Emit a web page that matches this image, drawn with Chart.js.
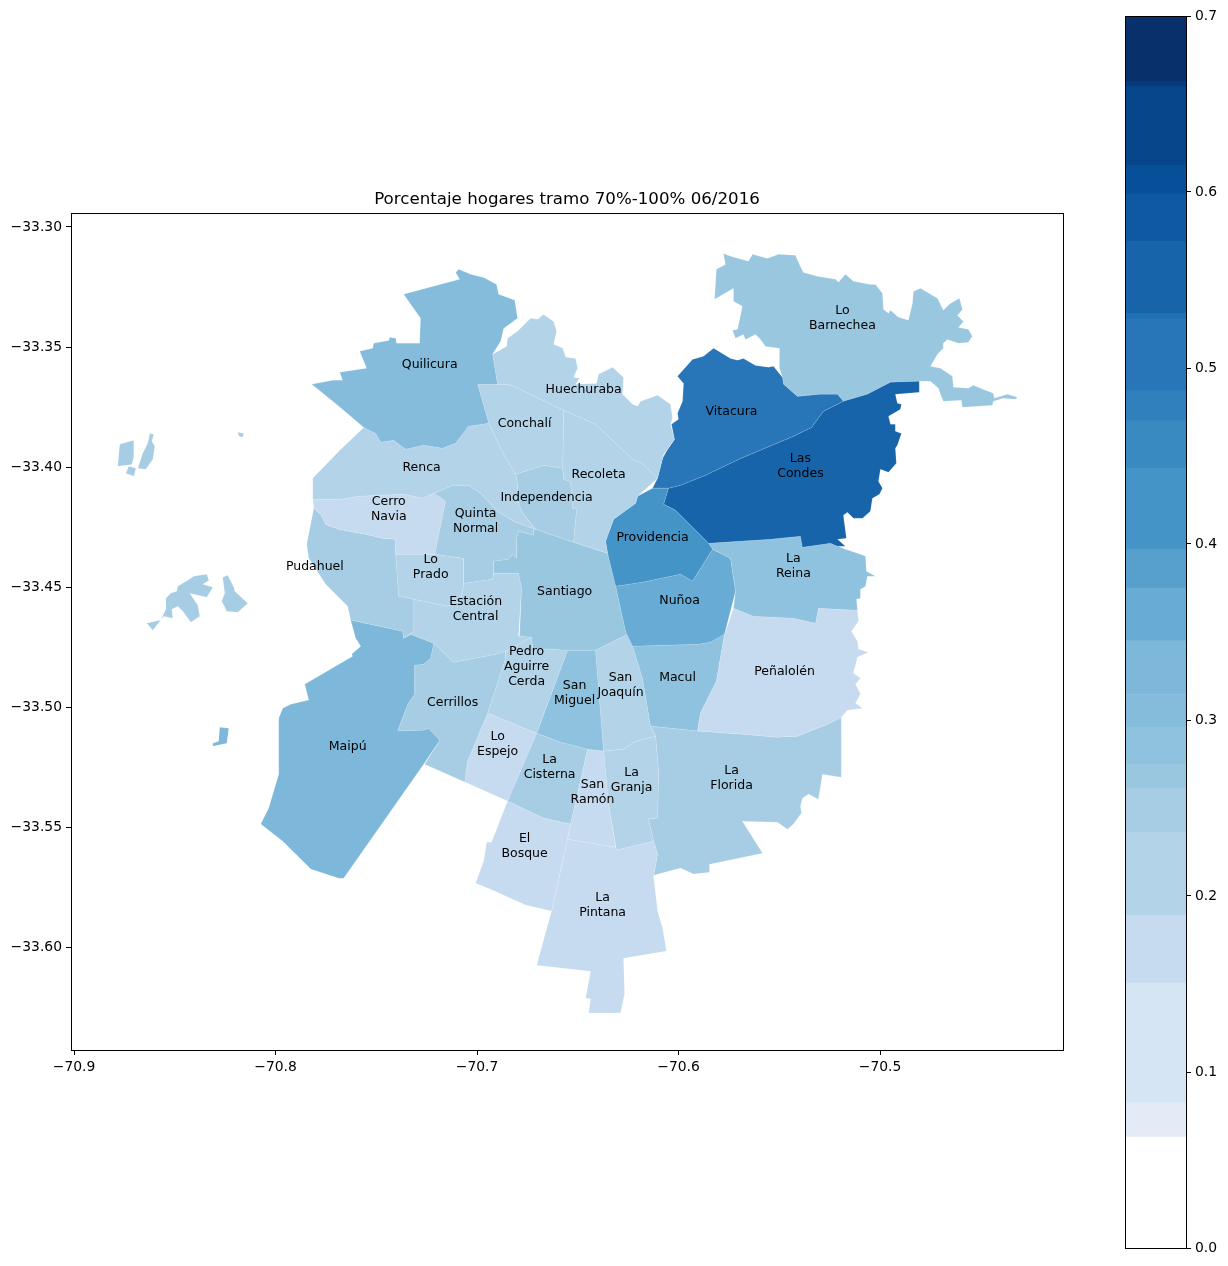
<!DOCTYPE html>
<html>
<head>
<meta charset="utf-8">
<title>Porcentaje hogares tramo 70%-100% 06/2016</title>
<script src="https://cdn.jsdelivr.net/npm/chart.js@4/dist/chart.umd.min.js"></script>
<style>
  html, body { margin: 0; padding: 0; background: #fff; }
  canvas { position: absolute; top: 0; }
  #mapa { left: 0; }
  #barra { left: 1110px; }
</style>
</head>
<body>
<canvas id="mapa" width="1110" height="1266"></canvas>
<canvas id="barra" width="118" height="1266"></canvas>
<script>
// Contornos de cada comuna en [longitud, latitud]
const quilicura = [[-70.7091,-33.3176],[-70.7032,-33.3197],[-70.6967,-33.3210],[-70.6903,-33.3239],[-70.6893,-33.3280],[-70.6813,-33.3305],[-70.6799,-33.3380],[-70.6868,-33.3422],[-70.6883,-33.3476],[-70.6923,-33.3530],[-70.6898,-33.3655],[-70.6997,-33.3655],[-70.6942,-33.3817],[-70.7042,-33.3829],[-70.7106,-33.3900],[-70.7171,-33.3921],[-70.7265,-33.3908],[-70.7354,-33.3925],[-70.7414,-33.3888],[-70.7478,-33.3896],[-70.7503,-33.3859],[-70.7562,-33.3834],[-70.7637,-33.3780],[-70.7716,-33.3725],[-70.7820,-33.3655],[-70.7716,-33.3638],[-70.7667,-33.3638],[-70.7681,-33.3605],[-70.7548,-33.3588],[-70.7582,-33.3517],[-70.7518,-33.3505],[-70.7513,-33.3484],[-70.7438,-33.3472],[-70.7433,-33.3459],[-70.7404,-33.3463],[-70.7399,-33.3484],[-70.7285,-33.3484],[-70.7280,-33.3380],[-70.7364,-33.3280],[-70.7086,-33.3218],[-70.7106,-33.3189]];
const huechuraba = [[-70.6923,-33.3530],[-70.6853,-33.3497],[-70.6848,-33.3463],[-70.6799,-33.3434],[-70.6734,-33.3380],[-70.6699,-33.3384],[-70.6670,-33.3364],[-70.6620,-33.3393],[-70.6605,-33.3434],[-70.6620,-33.3488],[-70.6575,-33.3505],[-70.6560,-33.3542],[-70.6511,-33.3547],[-70.6501,-33.3588],[-70.6521,-33.3626],[-70.6491,-33.3630],[-70.6511,-33.3655],[-70.6407,-33.3651],[-70.6397,-33.3613],[-70.6327,-33.3584],[-70.6273,-33.3626],[-70.6278,-33.3696],[-70.6228,-33.3738],[-70.6203,-33.3746],[-70.6188,-33.3725],[-70.6104,-33.3700],[-70.6040,-33.3738],[-70.6030,-33.3796],[-70.6040,-33.3821],[-70.6020,-33.3884],[-70.6074,-33.3946],[-70.6104,-33.4046],[-70.6179,-33.3983],[-70.6228,-33.3967],[-70.6412,-33.3821],[-70.6570,-33.3763],[-70.6808,-33.3667],[-70.6843,-33.3655],[-70.6898,-33.3655]];
const conchali = [[-70.6997,-33.3655],[-70.6898,-33.3655],[-70.6843,-33.3655],[-70.6808,-33.3667],[-70.6570,-33.3763],[-70.6575,-33.4004],[-70.6670,-33.3992],[-70.6808,-33.4029],[-70.6868,-33.3946],[-70.6942,-33.3817]];
const renca = [[-70.7562,-33.3834],[-70.7503,-33.3859],[-70.7478,-33.3896],[-70.7414,-33.3888],[-70.7354,-33.3925],[-70.7265,-33.3908],[-70.7171,-33.3921],[-70.7106,-33.3900],[-70.7042,-33.3829],[-70.6942,-33.3817],[-70.6868,-33.3946],[-70.6808,-33.4029],[-70.6799,-33.4071],[-70.6794,-33.4154],[-70.6774,-33.4191],[-70.6709,-33.4258],[-70.6818,-33.4225],[-70.6898,-33.4183],[-70.6982,-33.4108],[-70.7042,-33.4075],[-70.7121,-33.4075],[-70.7166,-33.4092],[-70.7215,-33.4108],[-70.7270,-33.4129],[-70.7364,-33.4112],[-70.7587,-33.4121],[-70.7676,-33.4133],[-70.7815,-33.4133],[-70.7815,-33.4046],[-70.7676,-33.3925]];
const independencia = [[-70.6808,-33.4029],[-70.6670,-33.3992],[-70.6575,-33.4004],[-70.6570,-33.4050],[-70.6536,-33.4062],[-70.6526,-33.4171],[-70.6506,-33.4175],[-70.6521,-33.4312],[-70.6709,-33.4258],[-70.6774,-33.4191],[-70.6794,-33.4154],[-70.6799,-33.4071]];
const recoleta = [[-70.6570,-33.3763],[-70.6575,-33.4004],[-70.6570,-33.4050],[-70.6536,-33.4062],[-70.6526,-33.4171],[-70.6506,-33.4175],[-70.6521,-33.4312],[-70.6352,-33.4358],[-70.6362,-33.4308],[-70.6322,-33.4216],[-70.6213,-33.4150],[-70.6203,-33.4121],[-70.6104,-33.4046],[-70.6179,-33.3983],[-70.6228,-33.3967],[-70.6412,-33.3821]];
const providencia = [[-70.6203,-33.4121],[-70.6129,-33.4087],[-70.6050,-33.4087],[-70.6074,-33.4154],[-70.6015,-33.4179],[-70.5851,-33.4316],[-70.5831,-33.4341],[-70.5931,-33.4474],[-70.5990,-33.4445],[-70.6179,-33.4478],[-70.6312,-33.4495],[-70.6352,-33.4358],[-70.6362,-33.4308],[-70.6322,-33.4216],[-70.6213,-33.4150]];
const vitacura = [[-70.5975,-33.3651],[-70.6005,-33.3621],[-70.5931,-33.3551],[-70.5876,-33.3538],[-70.5826,-33.3505],[-70.5742,-33.3547],[-70.5707,-33.3555],[-70.5678,-33.3547],[-70.5618,-33.3576],[-70.5554,-33.3584],[-70.5529,-33.3580],[-70.5484,-33.3626],[-70.5479,-33.3655],[-70.5410,-33.3705],[-70.5296,-33.3696],[-70.5211,-33.3696],[-70.5182,-33.3725],[-70.5281,-33.3767],[-70.5340,-33.3834],[-70.5430,-33.3871],[-70.5692,-33.3963],[-70.5866,-33.4033],[-70.5990,-33.4075],[-70.6050,-33.4087],[-70.6129,-33.4087],[-70.6104,-33.4046],[-70.6079,-33.3963],[-70.6060,-33.3933],[-70.6020,-33.3884],[-70.6035,-33.3821],[-70.6000,-33.3800],[-70.6005,-33.3775],[-70.5980,-33.3725]];
const lasCondes = [[-70.6050,-33.4087],[-70.5990,-33.4075],[-70.5866,-33.4033],[-70.5692,-33.3963],[-70.5430,-33.3871],[-70.5340,-33.3834],[-70.5281,-33.3767],[-70.5182,-33.3725],[-70.5063,-33.3696],[-70.4948,-33.3646],[-70.4805,-33.3642],[-70.4805,-33.3688],[-70.4864,-33.3692],[-70.4924,-33.3696],[-70.4914,-33.3734],[-70.4894,-33.3738],[-70.4899,-33.3759],[-70.4958,-33.3788],[-70.4948,-33.3821],[-70.4924,-33.3821],[-70.4924,-33.3850],[-70.4894,-33.3859],[-70.4914,-33.3908],[-70.4924,-33.3921],[-70.4919,-33.3983],[-70.4958,-33.4021],[-70.4998,-33.4008],[-70.5008,-33.4058],[-70.4988,-33.4087],[-70.5003,-33.4112],[-70.5038,-33.4129],[-70.5048,-33.4183],[-70.5087,-33.4212],[-70.5132,-33.4212],[-70.5162,-33.4187],[-70.5182,-33.4200],[-70.5167,-33.4295],[-70.5211,-33.4300],[-70.5172,-33.4329],[-70.5211,-33.4329],[-70.5246,-33.4316],[-70.5385,-33.4333],[-70.5395,-33.4287],[-70.5544,-33.4300],[-70.5851,-33.4316],[-70.6015,-33.4179],[-70.6074,-33.4154]];
const loBarnechea = [[-70.5182,-33.3725],[-70.5211,-33.3696],[-70.5296,-33.3696],[-70.5410,-33.3705],[-70.5479,-33.3655],[-70.5484,-33.3626],[-70.5499,-33.3588],[-70.5499,-33.3505],[-70.5568,-33.3497],[-70.5593,-33.3468],[-70.5618,-33.3447],[-70.5668,-33.3468],[-70.5678,-33.3447],[-70.5717,-33.3463],[-70.5732,-33.3430],[-70.5707,-33.3426],[-70.5683,-33.3330],[-70.5727,-33.3309],[-70.5727,-33.3255],[-70.5821,-33.3301],[-70.5812,-33.3176],[-70.5767,-33.3156],[-70.5777,-33.3110],[-70.5742,-33.3122],[-70.5653,-33.3143],[-70.5633,-33.3114],[-70.5559,-33.3131],[-70.5504,-33.3114],[-70.5420,-33.3118],[-70.5400,-33.3156],[-70.5380,-33.3189],[-70.5311,-33.3205],[-70.5221,-33.3218],[-70.5206,-33.3230],[-70.5172,-33.3197],[-70.5132,-33.3226],[-70.5048,-33.3239],[-70.5023,-33.3239],[-70.4988,-33.3276],[-70.4983,-33.3343],[-70.4958,-33.3359],[-70.4948,-33.3347],[-70.4909,-33.3376],[-70.4859,-33.3388],[-70.4839,-33.3318],[-70.4834,-33.3268],[-70.4800,-33.3255],[-70.4715,-33.3297],[-70.4686,-33.3347],[-70.4651,-33.3318],[-70.4606,-33.3297],[-70.4591,-33.3343],[-70.4616,-33.3368],[-70.4586,-33.3393],[-70.4611,-33.3418],[-70.4562,-33.3426],[-70.4542,-33.3455],[-70.4562,-33.3480],[-70.4611,-33.3484],[-70.4666,-33.3468],[-70.4686,-33.3484],[-70.4686,-33.3505],[-70.4715,-33.3530],[-70.4750,-33.3580],[-70.4700,-33.3588],[-70.4641,-33.3621],[-70.4636,-33.3667],[-70.4562,-33.3671],[-70.4537,-33.3659],[-70.4487,-33.3676],[-70.4438,-33.3692],[-70.4433,-33.3713],[-70.4368,-33.3696],[-70.4319,-33.3709],[-70.4328,-33.3717],[-70.4388,-33.3713],[-70.4438,-33.3725],[-70.4443,-33.3742],[-70.4591,-33.3750],[-70.4596,-33.3721],[-70.4686,-33.3725],[-70.4700,-33.3696],[-70.4710,-33.3671],[-70.4750,-33.3642],[-70.4805,-33.3642],[-70.4948,-33.3646],[-70.5063,-33.3696]];
const laReina = [[-70.5831,-33.4341],[-70.5851,-33.4316],[-70.5544,-33.4300],[-70.5395,-33.4287],[-70.5385,-33.4333],[-70.5246,-33.4316],[-70.5172,-33.4341],[-70.5112,-33.4358],[-70.5072,-33.4370],[-70.5068,-33.4433],[-70.5023,-33.4453],[-70.5063,-33.4453],[-70.5072,-33.4495],[-70.5097,-33.4508],[-70.5097,-33.4545],[-70.5117,-33.4549],[-70.5112,-33.4595],[-70.5306,-33.4587],[-70.5320,-33.4649],[-70.5430,-33.4628],[-70.5628,-33.4620],[-70.5727,-33.4587],[-70.5717,-33.4516],[-70.5742,-33.4379]];
const penalolen = [[-70.5727,-33.4587],[-70.5628,-33.4620],[-70.5430,-33.4628],[-70.5320,-33.4649],[-70.5306,-33.4587],[-70.5112,-33.4595],[-70.5107,-33.4641],[-70.5142,-33.4682],[-70.5112,-33.4724],[-70.5107,-33.4757],[-70.5058,-33.4770],[-70.5112,-33.4790],[-70.5132,-33.4857],[-70.5097,-33.4878],[-70.5122,-33.4903],[-70.5097,-33.4944],[-70.5122,-33.4982],[-70.5087,-33.5003],[-70.5162,-33.5011],[-70.5196,-33.5044],[-70.5261,-33.5069],[-70.5410,-33.5119],[-70.5509,-33.5123],[-70.5678,-33.5111],[-70.5906,-33.5098],[-70.5891,-33.5023],[-70.5812,-33.4890],[-70.5772,-33.4695]];
const nunoa = [[-70.6312,-33.4495],[-70.6179,-33.4478],[-70.5990,-33.4445],[-70.5931,-33.4474],[-70.5831,-33.4341],[-70.5742,-33.4379],[-70.5717,-33.4516],[-70.5772,-33.4695],[-70.5841,-33.4728],[-70.5901,-33.4736],[-70.6228,-33.4745],[-70.6263,-33.4682]];
const macul = [[-70.6228,-33.4745],[-70.5901,-33.4736],[-70.5841,-33.4728],[-70.5772,-33.4695],[-70.5812,-33.4890],[-70.5891,-33.5023],[-70.5906,-33.5098],[-70.6139,-33.5077],[-70.6179,-33.4878]];
const santiago = [[-70.6709,-33.4258],[-70.6521,-33.4312],[-70.6352,-33.4358],[-70.6312,-33.4495],[-70.6263,-33.4682],[-70.6253,-33.4695],[-70.6412,-33.4761],[-70.6551,-33.4761],[-70.6724,-33.4753],[-70.6729,-33.4707],[-70.6789,-33.4703],[-70.6779,-33.4503],[-70.6794,-33.4441],[-70.6918,-33.4441],[-70.6918,-33.4391],[-70.6843,-33.4383],[-70.6823,-33.4362],[-70.6804,-33.4379],[-70.6804,-33.4295],[-70.6794,-33.4266],[-70.6719,-33.4283],[-70.6719,-33.4262]];
const quintaNormal = [[-70.7215,-33.4108],[-70.7166,-33.4092],[-70.7121,-33.4075],[-70.7042,-33.4075],[-70.6982,-33.4108],[-70.6898,-33.4183],[-70.6818,-33.4225],[-70.6709,-33.4258],[-70.6719,-33.4262],[-70.6719,-33.4283],[-70.6794,-33.4266],[-70.6804,-33.4295],[-70.6804,-33.4379],[-70.6823,-33.4362],[-70.6843,-33.4383],[-70.6918,-33.4391],[-70.6918,-33.4441],[-70.6923,-33.4466],[-70.7066,-33.4483],[-70.7066,-33.4379],[-70.7210,-33.4362],[-70.7156,-33.4141]];
const cerroNavia = [[-70.7815,-33.4133],[-70.7676,-33.4133],[-70.7587,-33.4121],[-70.7364,-33.4112],[-70.7270,-33.4129],[-70.7215,-33.4108],[-70.7156,-33.4141],[-70.7210,-33.4362],[-70.7404,-33.4362],[-70.7404,-33.4300],[-70.7468,-33.4295],[-70.7552,-33.4279],[-70.7686,-33.4258],[-70.7751,-33.4237],[-70.7776,-33.4196],[-70.7810,-33.4171]];
const pudahuel = [[-70.7810,-33.4171],[-70.7845,-33.4320],[-70.7835,-33.4379],[-70.7751,-33.4487],[-70.7642,-33.4578],[-70.7627,-33.4636],[-70.7369,-33.4682],[-70.7364,-33.4711],[-70.7314,-33.4682],[-70.7314,-33.4549],[-70.7389,-33.4537],[-70.7404,-33.4362],[-70.7404,-33.4300],[-70.7468,-33.4295],[-70.7552,-33.4279],[-70.7686,-33.4258],[-70.7751,-33.4237],[-70.7776,-33.4196]];
const pudahuelIsla1 = [[-70.8773,-33.3904],[-70.8703,-33.3888],[-70.8703,-33.3954],[-70.8713,-33.3988],[-70.8783,-33.3996]];
const pudahuelIsla2 = [[-70.8728,-33.3996],[-70.8693,-33.4004],[-70.8703,-33.4037],[-70.8743,-33.4025]];
const pudahuelIsla3 = [[-70.8624,-33.3859],[-70.8604,-33.3863],[-70.8614,-33.3892],[-70.8599,-33.3913],[-70.8609,-33.3967],[-70.8644,-33.4008],[-70.8683,-33.4004],[-70.8659,-33.3942],[-70.8634,-33.3900]];
const pudahuelIsla4 = [[-70.8187,-33.3854],[-70.8158,-33.3859],[-70.8163,-33.3875],[-70.8182,-33.3871]];
const pudahuelIsla5 = [[-70.8341,-33.4445],[-70.8331,-33.4470],[-70.8361,-33.4487],[-70.8311,-33.4499],[-70.8341,-33.4541],[-70.8425,-33.4524],[-70.8386,-33.4574],[-70.8376,-33.4620],[-70.8420,-33.4645],[-70.8460,-33.4599],[-70.8485,-33.4578],[-70.8515,-33.4591],[-70.8510,-33.4628],[-70.8554,-33.4620],[-70.8609,-33.4678],[-70.8639,-33.4649],[-70.8569,-33.4636],[-70.8544,-33.4591],[-70.8544,-33.4545],[-70.8520,-33.4524],[-70.8490,-33.4516],[-70.8485,-33.4495],[-70.8435,-33.4470],[-70.8406,-33.4453]];
const pudahuelIsla6 = [[-70.8262,-33.4458],[-70.8237,-33.4449],[-70.8207,-33.4499],[-70.8202,-33.4516],[-70.8138,-33.4566],[-70.8187,-33.4603],[-70.8242,-33.4599],[-70.8267,-33.4557],[-70.8252,-33.4524]];
const loPrado = [[-70.7404,-33.4362],[-70.7210,-33.4362],[-70.7066,-33.4379],[-70.7066,-33.4483],[-70.7081,-33.4557],[-70.7146,-33.4578],[-70.7314,-33.4549],[-70.7389,-33.4537]];
const estacionCentral = [[-70.7314,-33.4549],[-70.7146,-33.4578],[-70.7081,-33.4557],[-70.7066,-33.4483],[-70.6923,-33.4466],[-70.6918,-33.4441],[-70.6794,-33.4441],[-70.6779,-33.4503],[-70.6794,-33.4703],[-70.6729,-33.4707],[-70.6858,-33.4765],[-70.6908,-33.4778],[-70.7116,-33.4811],[-70.7215,-33.4732],[-70.7329,-33.4695],[-70.7364,-33.4711],[-70.7314,-33.4682]];
const maipu = [[-70.7627,-33.4636],[-70.7369,-33.4682],[-70.7364,-33.4711],[-70.7329,-33.4695],[-70.7215,-33.4732],[-70.7230,-33.4795],[-70.7265,-33.4820],[-70.7309,-33.4824],[-70.7309,-33.4944],[-70.7344,-33.4986],[-70.7394,-33.5098],[-70.7265,-33.5094],[-70.7240,-33.5086],[-70.7185,-33.5136],[-70.7265,-33.5236],[-70.7662,-33.5710],[-70.7686,-33.5710],[-70.7825,-33.5672],[-70.7964,-33.5556],[-70.8073,-33.5485],[-70.8034,-33.5419],[-70.7984,-33.5277],[-70.7984,-33.5044],[-70.7964,-33.5003],[-70.7924,-33.4986],[-70.7835,-33.4969],[-70.7855,-33.4903],[-70.7617,-33.4786],[-70.7622,-33.4778],[-70.7577,-33.4745],[-70.7602,-33.4711]];
const maipuIsla = [[-70.8277,-33.5082],[-70.8232,-33.5086],[-70.8242,-33.5148],[-70.8311,-33.5161],[-70.8311,-33.5148],[-70.8282,-33.5140]];
const cerrillos = [[-70.7215,-33.4732],[-70.7116,-33.4811],[-70.6908,-33.4778],[-70.6858,-33.4765],[-70.6858,-33.4795],[-70.6947,-33.5023],[-70.7047,-33.5223],[-70.7061,-33.5310],[-70.7260,-33.5236],[-70.7185,-33.5136],[-70.7240,-33.5086],[-70.7265,-33.5094],[-70.7394,-33.5098],[-70.7344,-33.4986],[-70.7309,-33.4944],[-70.7309,-33.4824],[-70.7265,-33.4820],[-70.7230,-33.4795]];
const pedroAguirreCerda = [[-70.6858,-33.4765],[-70.6729,-33.4707],[-70.6724,-33.4753],[-70.6551,-33.4761],[-70.6704,-33.5107],[-70.6947,-33.5023],[-70.6858,-33.4795]];
const sanMiguel = [[-70.6551,-33.4761],[-70.6412,-33.4761],[-70.6372,-33.5181],[-70.6451,-33.5173],[-70.6585,-33.5144],[-70.6704,-33.5107]];
const sanJoaquin = [[-70.6412,-33.4761],[-70.6253,-33.4695],[-70.6228,-33.4745],[-70.6179,-33.4878],[-70.6139,-33.5077],[-70.6114,-33.5119],[-70.6174,-33.5132],[-70.6223,-33.5144],[-70.6273,-33.5173],[-70.6372,-33.5181]];
const laGranja = [[-70.6372,-33.5181],[-70.6273,-33.5173],[-70.6223,-33.5144],[-70.6174,-33.5132],[-70.6114,-33.5119],[-70.6099,-33.5265],[-70.6104,-33.5460],[-70.6149,-33.5464],[-70.6124,-33.5556],[-70.6308,-33.5593],[-70.6347,-33.5402]];
const sanRamon = [[-70.6451,-33.5173],[-70.6372,-33.5181],[-70.6347,-33.5402],[-70.6312,-33.5581],[-70.6551,-33.5548],[-70.6536,-33.5485],[-70.6501,-33.5360]];
const laCisterna = [[-70.6704,-33.5107],[-70.6585,-33.5144],[-70.6451,-33.5173],[-70.6501,-33.5360],[-70.6536,-33.5485],[-70.6670,-33.5460],[-70.6848,-33.5389]];
const loEspejo = [[-70.6947,-33.5023],[-70.6704,-33.5107],[-70.6848,-33.5389],[-70.7061,-33.5310],[-70.7047,-33.5223]];
const elBosque = [[-70.6848,-33.5389],[-70.6670,-33.5460],[-70.6536,-33.5485],[-70.6551,-33.5548],[-70.6630,-33.5847],[-70.6759,-33.5822],[-70.6947,-33.5751],[-70.7007,-33.5731],[-70.6967,-33.5639],[-70.6952,-33.5560],[-70.6928,-33.5560]];
const laPintana = [[-70.6551,-33.5548],[-70.6312,-33.5581],[-70.6308,-33.5593],[-70.6124,-33.5556],[-70.6104,-33.5610],[-70.6124,-33.5701],[-70.6104,-33.5847],[-70.6079,-33.5918],[-70.6060,-33.6013],[-70.6273,-33.6043],[-70.6268,-33.6192],[-70.6288,-33.6271],[-70.6446,-33.6271],[-70.6436,-33.6213],[-70.6461,-33.6209],[-70.6436,-33.6097],[-70.6704,-33.6072],[-70.6630,-33.5847]];
const laFlorida = [[-70.6139,-33.5077],[-70.5906,-33.5098],[-70.5678,-33.5111],[-70.5509,-33.5123],[-70.5410,-33.5119],[-70.5261,-33.5069],[-70.5192,-33.5040],[-70.5192,-33.5290],[-70.5286,-33.5277],[-70.5306,-33.5381],[-70.5355,-33.5360],[-70.5385,-33.5377],[-70.5395,-33.5410],[-70.5390,-33.5439],[-70.5430,-33.5485],[-70.5459,-33.5506],[-70.5509,-33.5477],[-70.5683,-33.5473],[-70.5583,-33.5606],[-70.5846,-33.5652],[-70.5846,-33.5685],[-70.5926,-33.5693],[-70.5990,-33.5668],[-70.6119,-33.5697],[-70.6124,-33.5701],[-70.6104,-33.5610],[-70.6124,-33.5556],[-70.6149,-33.5464],[-70.6104,-33.5460],[-70.6099,-33.5265],[-70.6114,-33.5119]];

// Cada forma con el indice de su comuna en los arreglos de abajo
const formas = [quilicura, huechuraba, conchali, renca, independencia, recoleta, providencia, vitacura, lasCondes, loBarnechea, laReina, penalolen, nunoa, macul, santiago, quintaNormal, cerroNavia, pudahuel, loPrado, estacionCentral, maipu, cerrillos, pedroAguirreCerda, sanMiguel, sanJoaquin, laGranja, sanRamon, laCisterna, loEspejo, elBosque, laPintana, laFlorida];
const islas = [pudahuelIsla1, pudahuelIsla2, pudahuelIsla3, pudahuelIsla4, pudahuelIsla5, pudahuelIsla6, maipuIsla];
const islasComuna = [17, 17, 17, 17, 17, 17, 20];

const comunas = ['Quilicura', 'Huechuraba', 'Conchalí', 'Renca', 'Independencia', 'Recoleta', 'Providencia', 'Vitacura', 'Las\nCondes', 'Lo\nBarnechea', 'La\nReina', 'Peñalolén', 'Nuñoa', 'Macul', 'Santiago', 'Quinta\nNormal', 'Cerro\nNavia', 'Pudahuel', 'Lo\nPrado', 'Estación\nCentral', 'Maipú', 'Cerrillos', 'Pedro\nAguirre\nCerda', 'San\nMiguel', 'San\nJoaquín', 'La\nGranja', 'San\nRamón', 'La\nCisterna', 'Lo\nEspejo', 'El\nBosque', 'La\nPintana', 'La\nFlorida'];
const valores = [0.305, 0.21, 0.21, 0.21, 0.245, 0.21, 0.42, 0.51, 0.55, 0.265, 0.285, 0.17, 0.36, 0.285, 0.265, 0.245, 0.17, 0.245, 0.21, 0.21, 0.33, 0.245, 0.21, 0.285, 0.21, 0.21, 0.17, 0.245, 0.17, 0.17, 0.17, 0.245];
const etiquetaLon = [-70.7235, -70.6471, -70.6764, -70.7275, -70.6655, -70.6397, -70.6129, -70.5737, -70.5395, -70.5187, -70.5430, -70.5474, -70.5995, -70.6005, -70.6565, -70.7007, -70.7438, -70.7805, -70.7230, -70.7007, -70.7642, -70.7121, -70.6754, -70.6516, -70.6288, -70.6233, -70.6427, -70.6640, -70.6898, -70.6764, -70.6377, -70.5737];
const etiquetaLat = [-33.3572, -33.3676, -33.3817, -33.4000, -33.4125, -33.4033, -33.4295, -33.3771, -33.3996, -33.3380, -33.4412, -33.4849, -33.4557, -33.4874, -33.4516, -33.4225, -33.4175, -33.4412, -33.4416, -33.4591, -33.5165, -33.4978, -33.4832, -33.4940, -33.4907, -33.5302, -33.5352, -33.5248, -33.5152, -33.5577, -33.5822, -33.5294];

const tituloTexto = 'Porcentaje hogares tramo 70%-100% 06/2016';
const lonTicks = [-70.9, -70.8, -70.7, -70.6, -70.5];
const latTicks = [-33.30, -33.35, -33.40, -33.45, -33.50, -33.55, -33.60];
const barraTicks = [0, 0.1, 0.2, 0.3, 0.4, 0.5, 0.6, 0.7];

// Tramos de la barra de color, de abajo hacia arriba
const bandaBordes = [0, 0.063, 0.0825, 0.1505, 0.189, 0.236, 0.261, 0.275, 0.296, 0.3145, 0.345, 0.375, 0.397, 0.443, 0.47, 0.487, 0.528, 0.531, 0.572, 0.599, 0.615, 0.66, 0.663, 0.7];
const bandaColores = ['#ffffff', '#e3ebf6', '#d6e5f4', '#c6dbef', '#b3d3e8', '#a6cde4', '#9ac7e0', '#8fc2de', '#85bcdc', '#7db8da', '#68acd5', '#57a0ce', '#4594c7', '#3a8ac2', '#3080bd', '#2876b8', '#2070b4', '#1764ab', '#0e59a2', '#084f99', '#08468b', '#083979', '#08306b'];

const fuente = '"DejaVu Sans"';

function colorDe(v) {
  for (let i = 0; i < bandaColores.length; i++) {
    if (v < bandaBordes[i + 1]) return bandaColores[i];
  }
  return bandaColores[bandaColores.length - 1];
}

function datasetForma(puntos, valor) {
  return {
    data: [...puntos, puntos[0]].map(p => ({ x: p[0], y: p[1] })),
    showLine: true,
    fill: 'shape',
    tension: 0,
    pointRadius: 0,
    borderWidth: 0.4,
    borderColor: 'rgba(255,255,255,0.3)',
    backgroundColor: colorDe(valor)
  };
}

const marcoPlugin = {
  id: 'marco',
  afterDraw(chart) {
    const a = chart.chartArea, ctx = chart.ctx;
    ctx.save();
    ctx.strokeStyle = '#000';
    ctx.lineWidth = 1;
    ctx.strokeRect(a.left + 0.5, a.top + 0.5, a.width, a.height);
    ctx.restore();
  }
};

const etiquetasPlugin = {
  id: 'etiquetas',
  afterDatasetsDraw(chart) {
    const ctx = chart.ctx;
    ctx.save();
    ctx.fillStyle = '#000';
    ctx.font = '12.5px ' + fuente;
    ctx.textAlign = 'center';
    ctx.textBaseline = 'middle';
    comunas.forEach((nombre, i) => {
      const x = chart.scales.x.getPixelForValue(etiquetaLon[i]);
      const y = chart.scales.y.getPixelForValue(etiquetaLat[i]);
      const lineas = nombre.split('\n');
      lineas.forEach((l, j) => ctx.fillText(l, x, y + (j - (lineas.length - 1) / 2) * 15));
    });
    ctx.restore();
  }
};

new Chart(document.getElementById('mapa'), {
  type: 'scatter',
  data: {
    datasets: [
      ...formas.map((f, i) => datasetForma(f, valores[i])),
      ...islas.map((f, i) => datasetForma(f, valores[islasComuna[i]]))
    ]
  },
  plugins: [marcoPlugin, etiquetasPlugin],
  options: {
    responsive: false,
    maintainAspectRatio: false,
    animation: false,
    devicePixelRatio: 1,
    layout: { padding: { top: 189.2, right: 47, left: 0, bottom: 0 } },
    plugins: {
      legend: { display: false },
      tooltip: { enabled: false },
      title: {
        display: true,
        text: tituloTexto,
        fullSize: false,
        color: '#000',
        font: { family: fuente, size: 16.67, weight: 'normal', lineHeight: 1.25 },
        padding: { top: 0, bottom: 3 }
      }
    },
    scales: {
      x: {
        type: 'linear',
        min: -70.9015,
        max: -70.4092,
        afterBuildTicks: s => { s.ticks = lonTicks.map(v => ({ value: v })); },
        afterFit: s => { s.height = 216; },
        grid: { drawOnChartArea: false, tickLength: 5, tickColor: '#000' },
        border: { display: false },
        ticks: {
          color: '#000', padding: 4, maxRotation: 0, autoSkip: false,
          font: { family: fuente, size: 13.9 },
          callback: v => '\u2212' + Math.abs(v).toFixed(1)
        }
      },
      y: {
        type: 'linear',
        min: -33.6425,
        max: -33.2942,
        afterBuildTicks: s => { s.ticks = latTicks.map(v => ({ value: v })); },
        afterFit: s => { s.width = 71; },
        grid: { drawOnChartArea: false, tickLength: 5, tickColor: '#000' },
        border: { display: false },
        ticks: {
          color: '#000', padding: 4, autoSkip: false,
          font: { family: fuente, size: 13.9 },
          callback: v => '\u2212' + Math.abs(v).toFixed(2)
        }
      }
    }
  }
});

new Chart(document.getElementById('barra'), {
  type: 'bar',
  data: {
    labels: [''],
    datasets: bandaColores.map((c, i) => ({
      data: [[bandaBordes[i], bandaBordes[i + 1]]],
      backgroundColor: c,
      borderWidth: 0,
      categoryPercentage: 1,
      barPercentage: 1
    }))
  },
  plugins: [marcoPlugin],
  options: {
    responsive: false,
    maintainAspectRatio: false,
    animation: false,
    devicePixelRatio: 1,
    layout: { padding: { top: 16, right: 0, left: 15, bottom: 18 } },
    plugins: { legend: { display: false }, tooltip: { enabled: false }, title: { display: false } },
    scales: {
      x: { stacked: true, display: false },
      y: {
        position: 'right',
        min: 0,
        max: 0.7,
        afterBuildTicks: s => { s.ticks = barraTicks.map(v => ({ value: v })); },
        afterFit: s => { s.width = 42; },
        grid: { drawOnChartArea: false, tickLength: 5, tickColor: '#000' },
        border: { display: false },
        ticks: {
          color: '#000', padding: 4, autoSkip: false,
          font: { family: fuente, size: 13.9 },
          callback: v => v.toFixed(1)
        }
      }
    }
  }
});
</script>
</body>
</html>
